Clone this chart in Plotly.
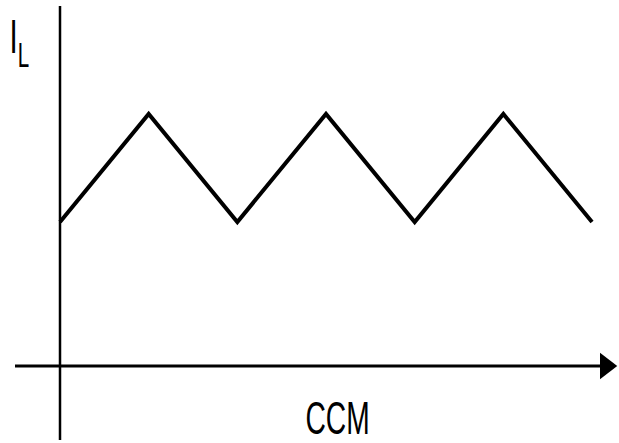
import plotly.graph_objects as go

# Data: inductor current in CCM (triangle wave), time in half-periods
t_points = [0, 1, 2, 3, 4, 5, 6]
i_points = [1.0, 1.75, 1.0, 1.75, 1.0, 1.75, 1.0]
y_label = "I<sub>L</sub>"
x_label = "CCM"

W, H = 619, 443
# pixel mapping of axes
x0_px, ux = 60, 88.67    # t=0 at 60px, 88.67px per unit
y0_px, uy = 366, 144     # I=0 at 366px, 144px per unit
xr = [(0 - x0_px) / ux, (W - x0_px) / ux]
yr = [(y0_px - H) / uy, (y0_px - 0) / uy]

fig = go.Figure()
fig.add_trace(go.Scatter(x=t_points, y=i_points, mode="lines",
                         line=dict(color="black", width=4), hoverinfo="skip",
                         showlegend=False))
# arrow head on time axis
fig.add_trace(go.Scatter(x=[(605.75 - x0_px) / ux], y=[0], mode="markers",
                         marker=dict(symbol="triangle-right", size=23, color="black",
                                     line=dict(width=0)),
                         cliponaxis=False, hoverinfo="skip", showlegend=False))

# axis lines
fig.add_shape(type="line", x0=0, x1=0, y0=(y0_px - 440) / uy, y1=(y0_px - 6) / uy,
              line=dict(color="black", width=2.5))
fig.add_shape(type="line", x0=(15 - x0_px) / ux, x1=(601 - x0_px) / ux, y0=0, y1=0,
              line=dict(color="black", width=3))

font_fam = "Liberation Sans, Arial, sans-serif"
fig.add_annotation(text=y_label, xref="paper", yref="paper",
                   x=19 / W, y=1 - 7 / H, xanchor="center", yanchor="top",
                   showarrow=False, font=dict(family=font_fam, size=49, color="black"))
fig.add_annotation(text=x_label, xref="paper", yref="paper",
                   x=337 / W, y=1 - 417 / H, xanchor="center", yanchor="middle",
                   showarrow=False, font=dict(family=font_fam, size=47, color="black"))

fig.update_xaxes(range=xr, visible=False, fixedrange=True)
fig.update_yaxes(range=yr, visible=False, fixedrange=True)
fig.update_layout(width=W, height=H, margin=dict(l=0, r=0, t=0, b=0),
                  paper_bgcolor="white", plot_bgcolor="white")

post = """
document.documentElement.style.margin='0';
document.body.style.margin='0';
document.body.style.padding='0';
(function(){
  var gd = document.getElementById('{plot_id}');
  function squeeze(){
    var ts = gd.querySelectorAll('text.annotation-text');
    ts.forEach(function(t){
      var tr = t.getAttribute('transform') || '';
      if (tr.indexOf('scale(0.6') >= 0) return;
      t.querySelectorAll('tspan').forEach(function(s){
        if (s.getAttribute('dy') === '0.3em') s.setAttribute('dy', '0.42em');
      });
      var b = t.getBBox();
      var cx = b.x + b.width / 2;
      t.setAttribute('transform', tr + ' translate(' + cx + ',0) scale(0.6,1) translate(' + (-cx) + ',0)');
    });
  }
  squeeze();
  if (gd.on) gd.on('plotly_afterplot', squeeze);
})();
"""
fig.write_html("out.html", post_script=post,
               config={"displayModeBar": False, "staticPlot": True})
